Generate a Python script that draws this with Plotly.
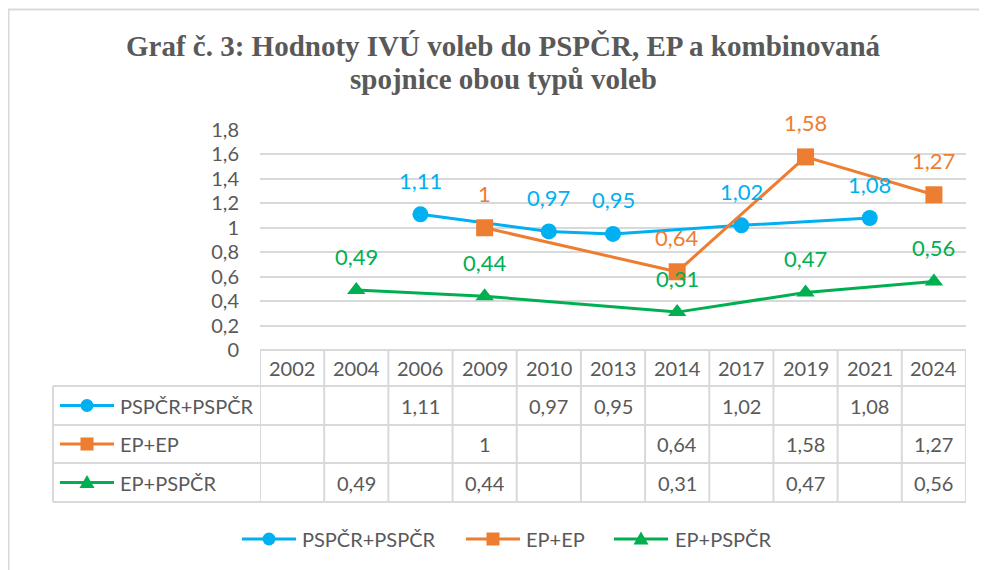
import plotly.graph_objects as go

# ---------------- data ----------------
years = ["2002", "2004", "2006", "2009", "2010", "2013", "2014", "2017", "2019", "2021", "2024"]
series_names = ["PSPČR+PSPČR", "EP+EP", "EP+PSPČR"]
pspcr_pspcr = [None, None, 1.11, None, 0.97, 0.95, None, 1.02, None, 1.08, None]
ep_ep = [None, None, None, 1.00, None, None, 0.64, None, 1.58, None, 1.27]
ep_pspcr = [None, 0.49, None, 0.44, None, None, 0.31, None, 0.47, None, 0.56]
title_line1 = "Graf č. 3: Hodnoty IVÚ voleb do PSPČR, EP a kombinovaná"
title_line2 = "spojnice obou typů voleb"

# ---------------- style ----------------
colors = ["#00B0F0", "#ED7D31", "#00B050"]
symbols = ["circle", "square", "triangle-up"]
msizes = [16, 17, 16]
values = [pspcr_pspcr, ep_ep, ep_pspcr]
TXT = "#595959"
GRID = "#D9D9D9"
FONT = "Lato"

OFF = 8  # page body margin
W, H = 987 - OFF, 570 - OFF
# plot area in screen pixels: x 260..966, y 130..350
SX0, SX1, SY0, SY1 = 260, 966, 130, 350
L, T = SX0 - OFF, SY0 - OFF
PW, PH = SX1 - SX0, SY1 - SY0
R, B = W - L - PW, H - T - PH


def px(x):
    return (x - SX0) / PW


def py(y):
    return (SY1 - y) / PH


def fmt(v):
    return f"{v:g}".replace(".", ",")


fig = go.Figure()
for name, vals, c, s, ms in zip(series_names, values, colors, symbols, msizes):
    fig.add_trace(go.Scatter(
        x=years, y=vals, name=name, mode="lines+markers", connectgaps=True,
        line=dict(color=c, width=3),
        marker=dict(symbol=s, size=ms, color=c),
        cliponaxis=False, showlegend=False,
    ))

annotations = []
# data labels
for vals, c in zip(values, colors):
    for i, v in enumerate(vals):
        if v is None:
            continue
        annotations.append(dict(x=i, y=v, xref="x", yref="y", text=fmt(v), showarrow=False,
                                yshift=34, font=dict(family=FONT, size=22, color=c)))

# title
annotations.append(dict(x=px(503), y=py(46), xref="paper", yref="paper", text="<b>" + title_line1 + "</b>",
                        showarrow=False, xanchor="center", yanchor="middle",
                        font=dict(family="Liberation Serif", size=29, color=TXT)))
annotations.append(dict(x=px(503), y=py(79), xref="paper", yref="paper", text="<b>" + title_line2 + "</b>",
                        showarrow=False, xanchor="center", yanchor="middle",
                        font=dict(family="Liberation Serif", size=29, color=TXT)))

# data table
row_lines = [350, 386, 425, 463, 502]
header_c = 368
row_c = [405.5, 444, 482.5]
for i, yr in enumerate(years):
    annotations.append(dict(x=i, y=py(header_c), xref="x", yref="paper", text=yr, showarrow=False,
                            yanchor="middle", font=dict(family=FONT, size=20, color=TXT)))
for vals, rc in zip(values, row_c):
    for i, v in enumerate(vals):
        if v is None:
            continue
        annotations.append(dict(x=i, y=py(rc), xref="x", yref="paper", text=fmt(v), showarrow=False,
                                yanchor="middle", font=dict(family=FONT, size=20, color=TXT)))
for name, rc in zip(series_names, row_c):
    annotations.append(dict(x=px(118), y=py(rc), xref="paper", yref="paper", text=name, showarrow=False,
                            xanchor="left", yanchor="middle", font=dict(family=FONT, size=20, color=TXT)))

shapes = []
n = len(years)
# outer chart border
shapes.append(dict(type="rect", xref="paper", yref="paper", x0=px(8.5), x1=px(1010), y0=py(9.5), y1=py(600),
                   line=dict(color=GRID, width=2), fillcolor="rgba(0,0,0,0)", layer="below"))
# table horizontal lines
shapes.append(dict(type="line", xref="x", yref="paper", x0=-0.5, x1=n - 0.5, y0=py(350), y1=py(350),
                   line=dict(color=GRID, width=2)))
for yl in row_lines[1:]:
    shapes.append(dict(type="line", xref="paper", yref="paper", x0=px(53), x1=1.0, y0=py(yl), y1=py(yl),
                       line=dict(color=GRID, width=2)))
# table vertical lines
for k in range(n + 1):
    shapes.append(dict(type="line", xref="x", yref="paper", x0=k - 0.5, x1=k - 0.5, y0=py(350), y1=py(502),
                       line=dict(color=GRID, width=2)))
shapes.append(dict(type="line", xref="paper", yref="paper", x0=px(53), x1=px(53), y0=py(386), y1=py(502),
                   line=dict(color=GRID, width=2)))


def add_key(cx, cy, half, c, s, msz):
    """legend key: line with centred marker (screen pixel coords)"""
    shapes.append(dict(type="line", xref="paper", yref="paper", x0=px(cx - half), x1=px(cx + half),
                       y0=py(cy), y1=py(cy), line=dict(color=c, width=3)))
    h = msz / 2
    common = dict(xref="paper", yref="paper", xsizemode="pixel", ysizemode="pixel",
                  xanchor=px(cx), yanchor=py(cy), fillcolor=c, line=dict(color=c, width=0))
    if s == "circle":
        shapes.append(dict(type="circle", x0=-h, x1=h, y0=-h, y1=h, **common))
    elif s == "square":
        shapes.append(dict(type="rect", x0=-h, x1=h, y0=-h, y1=h, **common))
    else:
        shapes.append(dict(type="path", path=f"M {-h - 1} {-h + 1} L {h + 1} {-h + 1} L 0 {h + 1} Z", **common))


# legend keys inside table
for c, s, rc in zip(colors, symbols, row_c):
    add_key(87, rc, 27, c, s, 13)

# bottom legend (drawn manually to match Excel's longer keys)
LEG_Y = 539
leg_key_x = [269, 493, 641]
leg_txt_x = [300, 524, 673]
for name, c, s, kx, tx in zip(series_names, colors, symbols, leg_key_x, leg_txt_x):
    add_key(kx, LEG_Y, 27, c, s, 13)
    annotations.append(dict(x=px(tx), y=py(LEG_Y), xref="paper", yref="paper", text=name, showarrow=False,
                            xanchor="left", yanchor="middle", font=dict(family=FONT, size=20, color=TXT)))

fig.update_layout(
    width=W, height=H,
    margin=dict(l=L, r=R, t=T, b=B, autoexpand=False),
    paper_bgcolor="white", plot_bgcolor="white",
    separators=", ",
    font=dict(family=FONT, size=20, color=TXT),
    xaxis=dict(type="category", categoryorder="array", categoryarray=years, range=[-0.5, n - 0.5],
               showticklabels=False, showgrid=False, zeroline=False, showline=False, ticks=""),
    yaxis=dict(range=[0, 1.8], dtick=0.2, tick0=0, showgrid=True, gridcolor=GRID, gridwidth=1.5,
               zeroline=False, showline=False, ticks="", ticklabelstandoff=20,
               tickfont=dict(family=FONT, size=20, color=TXT)),
    annotations=annotations,
    shapes=shapes,
    showlegend=False,
)

fig.write_html("out.html")
